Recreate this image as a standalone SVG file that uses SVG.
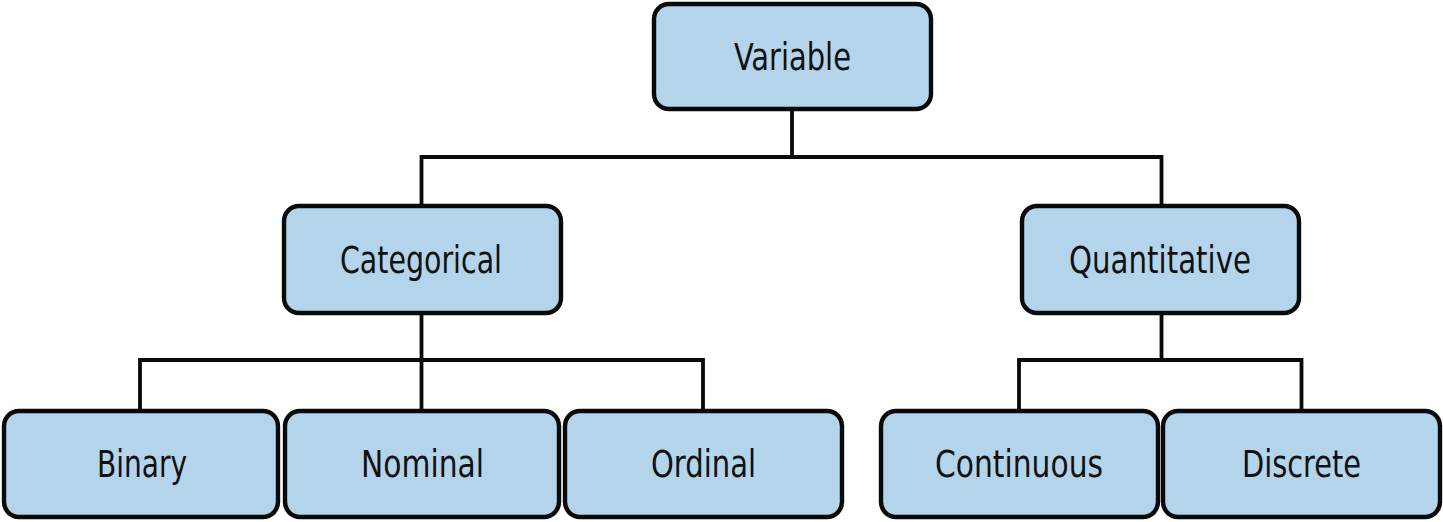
<svg xmlns="http://www.w3.org/2000/svg" width="1443" height="522" viewBox="0 0 1443 522">
  <style>
    .box { fill: #b3d4ea; stroke: #0a0a0a; stroke-width: 4.4; }
    .lbl { font-family: "DejaVu Sans", "Liberation Sans", sans-serif; font-stretch: condensed; font-size: 37px; fill: #111; text-anchor: middle; }
    .conn { fill: none; stroke: #0a0a0a; stroke-width: 3.8; stroke-linejoin: miter; stroke-linecap: square; }
  </style>
  <rect width="1443" height="522" fill="#ffffff"/>
  <g id="connectors">
    <path class="conn" d="M792,111 V157 M421.5,157 H1161.5 M421.5,157 V204 M1161.5,157 V204"/>
    <path class="conn" d="M421.5,315 V409 M140,360 H703 M140,360 V409 M703,360 V409"/>
    <path class="conn" d="M1161.5,315 V360 M1019,360 H1301.5 M1019,360 V409 M1301.5,360 V409"/>
  </g>
  <g id="node-variable">
    <rect class="box" x="654" y="4" width="277" height="105" rx="15"/>
    <text class="lbl" x="792.5" y="70" textLength="117" lengthAdjust="spacingAndGlyphs">Variable</text>
  </g>
  <g id="node-categorical">
    <rect class="box" x="284" y="206" width="277" height="107" rx="15"/>
    <text class="lbl" x="421" y="273" textLength="162" lengthAdjust="spacingAndGlyphs">Categorical</text>
  </g>
  <g id="node-quantitative">
    <rect class="box" x="1022" y="206" width="277" height="107" rx="15"/>
    <text class="lbl" x="1160" y="273" textLength="182" lengthAdjust="spacingAndGlyphs">Quantitative</text>
  </g>
  <g id="node-binary">
    <rect class="box" x="4" y="411" width="274" height="106" rx="15"/>
    <text class="lbl" x="142" y="477" textLength="90" lengthAdjust="spacingAndGlyphs">Binary</text>
  </g>
  <g id="node-nominal">
    <rect class="box" x="285" y="411" width="274" height="106" rx="15"/>
    <text class="lbl" x="422.5" y="477" textLength="123" lengthAdjust="spacingAndGlyphs">Nominal</text>
  </g>
  <g id="node-ordinal">
    <rect class="box" x="565" y="411" width="277" height="106" rx="15"/>
    <text class="lbl" x="703.5" y="477" textLength="105" lengthAdjust="spacingAndGlyphs">Ordinal</text>
  </g>
  <g id="node-continuous">
    <rect class="box" x="881" y="411" width="277" height="106" rx="15"/>
    <text class="lbl" x="1019" y="477" textLength="168" lengthAdjust="spacingAndGlyphs">Continuous</text>
  </g>
  <g id="node-discrete">
    <rect class="box" x="1163" y="411" width="277" height="106" rx="15"/>
    <text class="lbl" x="1301.5" y="477" textLength="119" lengthAdjust="spacingAndGlyphs">Discrete</text>
  </g>
</svg>
